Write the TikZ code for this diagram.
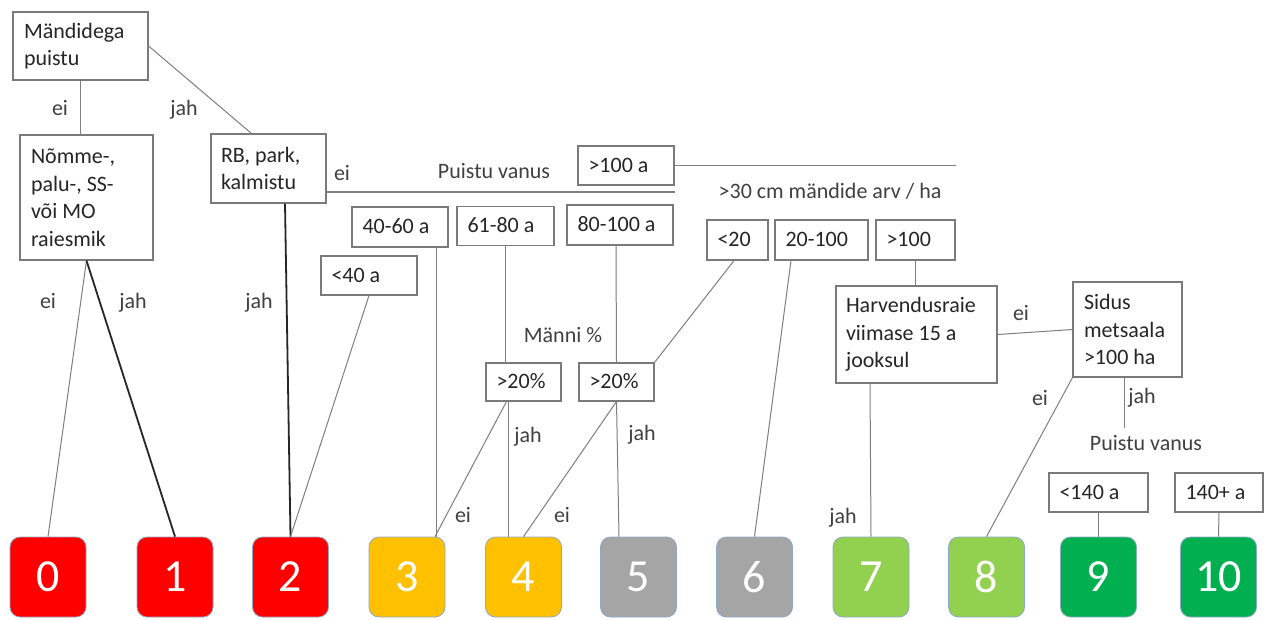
\documentclass[tikz,border=0pt]{standalone}
\usepackage{fontspec}
\setmainfont{Carlito}
\usetikzlibrary{calc}
\definecolor{boxline}{HTML}{7A7A7A}
\definecolor{txt}{HTML}{262626}
\definecolor{lbl}{HTML}{404040}
\definecolor{wirecol}{HTML}{7F7F7F}
\definecolor{cRed}{HTML}{FF0000}
\definecolor{cAmber}{HTML}{FFC000}
\definecolor{cGray}{HTML}{A5A5A5}
\definecolor{cLime}{HTML}{92D050}
\definecolor{cGreen}{HTML}{00B050}
\definecolor{rimline}{HTML}{8EA9C8}
\begin{document}
\begin{tikzpicture}[x=1pt,y=-1pt,
  every node/.style={font=\fontsize{22pt}{27.5pt}\selectfont, text=txt},
  qbox/.style={draw=boxline, line width=1.1pt, fill=white, inner ysep=0pt},
  rangebox/.style={qbox, align=flush left, text width=#1, inner xsep=10.5pt,
    minimum height=39pt, text height=16pt, text depth=3pt},
  multibox/.style={qbox, align=flush left, inner xsep=11pt},
  tag/.style={text=lbl, inner sep=0pt, text height=15pt, text depth=4pt},
  wire/.style={draw=wirecol, line width=1pt},
  heavy/.style={draw=black!85, line width=1.8pt},
  grade/.style={draw=rimline, line width=0.8pt, rounded corners=10pt,
    minimum width=76pt, minimum height=80pt, inner sep=0pt, text=white,
    font=\fontsize{46pt}{50pt}\selectfont},
]
\fill[white] (0,0) rectangle (1269,619);
\useasboundingbox (0,0) rectangle (1269,619);

% decision boxes
\node[multibox, text width=113pt, minimum height=68pt] (mand) at (80.5,46) {Mändidega\\puistu};
\node[multibox, text width=111pt, minimum height=125pt] (heath) at (86.5,197.5) {Nõmme-,\\palu-, SS-\\või MO\\raiesmik};
\node[multibox, inner xsep=10pt, text width=95pt, minimum height=69pt] (rb) at (268.5,168.5) {RB, park,\\kalmistu};
\node[multibox, inner xsep=10pt, text width=141pt, minimum height=97pt] (thin) at (916.5,334.5) {Harvendusraie\\viimase 15 a\\jooksul};
\node[multibox, text width=87pt, minimum height=95pt] (block) at (1127.5,329.5) {Sidus\\metsaala\\>100 ha};

% stand age classes
\node[rangebox=75pt] (age100) at (626,165.5) {>100 a};
\node[rangebox=75pt, minimum height=40pt] (age4060) at (400,227) {40-60 a};
\node[rangebox=76pt] (age6180) at (505.5,226) {61-80 a};
\node[rangebox=85pt, minimum height=40pt] (age80100) at (620,225) {80-100 a};
\node[rangebox=75pt] (age40) at (369,275.5) {<40 a};

% pine share
\node[rangebox=54pt, minimum height=38pt] (pine1) at (523.5,382) {>20\%};
\node[rangebox=54pt, minimum height=38pt] (pine2) at (616.5,382) {>20\%};

% large pine count
\node[rangebox=40pt, minimum height=40pt] (few) at (737.5,240) {<20};
\node[rangebox=72pt, minimum height=40pt] (mid) at (821.5,240) {20-100};
\node[rangebox=58pt, minimum height=40pt] (many) at (915.5,240) {>100};

% old stand classes
\node[rangebox=78pt] (young) at (1098.5,492.5) {<140 a};
\node[rangebox=67pt] (old) at (1219,492.5) {140+ a};

% value classes
\node[grade, fill=cRed]   (r0)  at (48,577)     {0};
\node[grade, fill=cRed]   (r1)  at (175,577)    {1};
\node[grade, fill=cRed]   (r2)  at (290.5,577)  {2};
\node[grade, fill=cAmber] (r3)  at (407,577)    {3};
\node[grade, fill=cAmber] (r4)  at (523.5,577)  {4};
\node[grade, fill=cGray]  (r5)  at (638.5,577)  {5};
\node[grade, fill=cGray]  (r6)  at (754.5,577)  {6};
\node[grade, fill=cLime]  (r7)  at (871,577)    {7};
\node[grade, fill=cLime]  (r8)  at (986.5,577)  {8};
\node[grade, fill=cGreen] (r9)  at (1098.5,577) {9};
\node[grade, fill=cGreen] (r10) at (1218.5,577) {10};

% free line ends
\coordinate (ageline) at (675,192);
\coordinate (oldline) at (956,165.5);
\coordinate (vanusstub) at (1124,428);

% connectors
\draw[wire] (mand.south) -- (mand.south |- heath.north);
\draw[wire] (mand.east) -- ($(rb.north west)+(41,0)$);
\draw[wire] (heath.south) -- (r0.north);
\draw[heavy] (heath.south) -- (r1.north);
\draw[heavy] ($(rb.south)+(16.5,0)$) -- (r2.north);
\draw[wire] (age40.south) -- (r2.north);
\draw[wire, line width=1.6pt] (rb.east |- ageline) -- (ageline);
\draw[wire] (age100.east) -- (oldline);
\draw[wire] ($(age4060.south)+(36,0)$) -- ($(r3.north)+(29,0)$);
\draw[wire] (age6180.south) -- (age6180.south |- pine1.north);
\draw[wire] ($(pine1.south)+(-17,0)$) -- ($(r3.north)+(28,0)$);
\draw[wire] ($(pine1.south)+(-15.5,0)$) -- ($(r4.north)+(-15.5,0)$);
\draw[wire] ($(age80100.south)+(-4,0)$) -- (pine2.north);
\draw[wire] ($(few.south)+(-3.5,0)$) -- (pine2.north east);
\draw[wire] (pine2.south) -- (r4.north);
\draw[wire] (pine2.south) -- ($(r5.north)+(-19.5,0)$);
\draw[wire] ($(mid.south)+(-30.5,0)$) -- (r6.north);
\draw[wire] (many.south) -- (many.south |- thin.north);
\draw[wire] ($(thin.south)+(-46.5,0)$) -- (r7.north);
\draw[wire] (thin.east) -- (block.west);
\draw[wire] (block.south west) -- (r8.north);
\draw[wire] ($(block.south)+(-3.5,0)$) -- (vanusstub);
\draw[wire] (young.south) -- (r9.north);
\draw[wire] (old.south) -- (r10.north);

% branch labels and headings
\node[tag] (t1)  at (60,110)   {ei};
\node[tag] (t2)  at (184,110)  {jah};
\node[tag] (t3)  at (342,175)  {ei};
\node[tag] (t4)  at (48,303)   {ei};
\node[tag] (t5)  at (133,303)  {jah};
\node[tag] (t6)  at (259,303)  {jah};
\node[tag] (h1)  at (494,173)  {Puistu vanus};
\node[tag] (h2)  at (563,337)  {Männi \%};
\node[tag] (h3)  at (830,193)  {>30 cm mändide arv / ha};
\node[tag] (t7)  at (1021,315) {ei};
\node[tag] (t8)  at (1040,400) {ei};
\node[tag] (t9)  at (1142,398) {jah};
\node[tag] (h4)  at (1146,445) {Puistu vanus};
\node[tag] (t10) at (528,437)  {jah};
\node[tag] (t11) at (642,435)  {jah};
\node[tag] (t12) at (463,517)  {ei};
\node[tag] (t13) at (562,517)  {ei};
\node[tag] (t14) at (843,518)  {jah};
\end{tikzpicture}
\end{document}
